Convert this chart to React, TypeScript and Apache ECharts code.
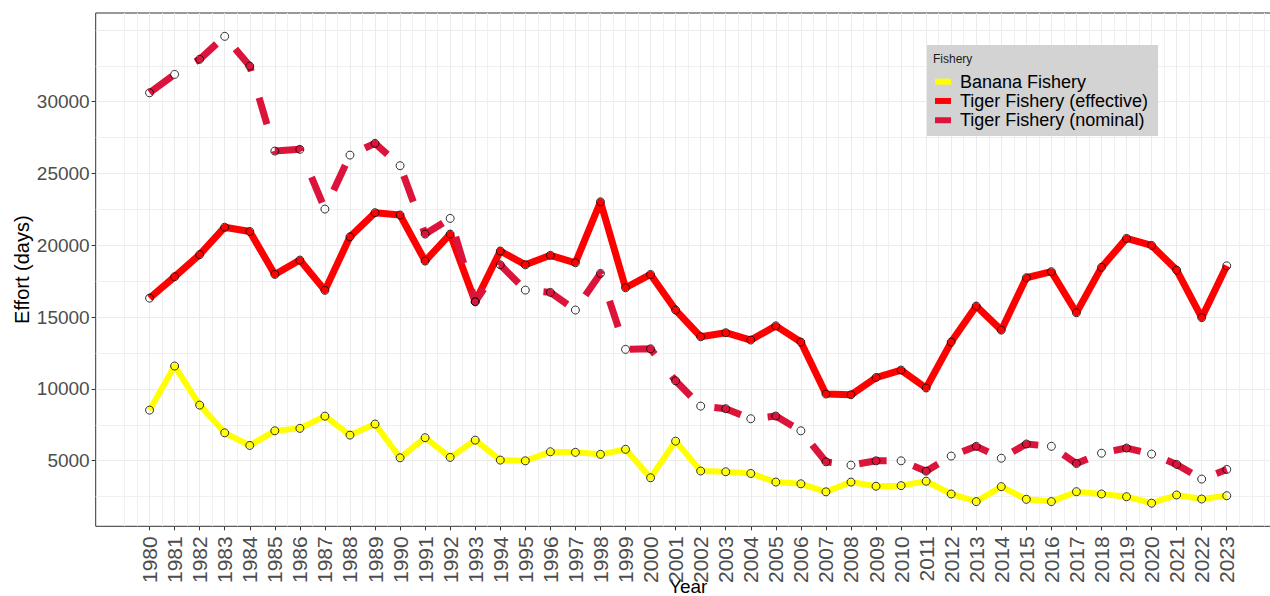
import React, { useEffect, useRef } from "react";
import * as echarts from "echarts";

const years = [
  1980, 1981, 1982, 1983, 1984, 1985, 1986, 1987, 1988, 1989, 1990, 1991, 1992, 1993, 1994,
  1995, 1996, 1997, 1998, 1999, 2000, 2001, 2002, 2003, 2004, 2005, 2006, 2007, 2008, 2009,
  2010, 2011, 2012, 2013, 2014, 2015, 2016, 2017, 2018, 2019, 2020, 2021, 2022, 2023,
];

const banana = [
  8520, 11590, 8870, 6940, 6060, 7080, 7250, 8100, 6780, 7550, 5200, 6600, 5230, 6430, 5040,
  4990, 5620, 5580, 5440, 5790, 3810, 6360, 4280, 4230, 4110, 3510, 3390, 2830, 3510, 3220,
  3260, 3570, 2680, 2150, 3190, 2310, 2150, 2840, 2680, 2490, 2040, 2610, 2330, 2560,
];

const tigerEffective = [
  16320, 17810, 19350, 21260, 20960, 17970, 18970, 16860, 20590, 22270, 22110, 18900, 20780,
  16070, 19600, 18640, 19300, 18780, 23030, 17040, 17970, 15490, 13630, 13910, 13400, 14390,
  13260, 9640, 9590, 10790, 11310, 10060, 13260, 15770, 14090, 17740, 18160, 15300, 18460,
  20480, 19990, 18270, 14960, 18570,
];

const tigerNominal = [
  30620, 31900, 32950, 34550, 32480, 26560, 26680, 22520, 26280, 27100, 25540, 20780, 21870,
  16070, 18640, 16880, 16720, 15490, 18040, 12750, 12790, 10560, 8800, 8620, 7920, 8110, 7080,
  4920, 4690, 4990, 4990, 4270, 5320, 6000, 5170, 6160, 6000, 4800, 5520, 5880, 5460, 4740,
  3720, 4390,
];

const seriesNames = ["Banana Fishery", "Tiger Fishery (effective)", "Tiger Fishery (nominal)"];
const seriesColors = ["#FFFF00", "#FF0000", "#DC143C"];

const yTickValues = [5000, 10000, 15000, 20000, 25000, 30000];
const yMajorGrid = [5000, 10000, 15000, 20000, 25000, 30000, 35000];
const yMinorGrid = [2500, 7500, 12500, 17500, 22500, 27500, 32500];
const xMinorGrid = [1979, 1979.5, ...years.map((y) => y + 0.5), 2024, 2024.5];

const X_MIN = 1977.85;
const X_MAX = 2025.15;
const Y_MIN = 430;
const Y_MAX = 36175;

const FONT = '"Liberation Sans", Arial, Helvetica, sans-serif';

const pairs = (vals: number[]) => years.map((yr, i) => [yr, vals[i]]);

export default function App() {
  const ref = useRef<HTMLDivElement>(null);

  useEffect(() => {
    if (!ref.current) return;
    const chart = echarts.init(ref.current, undefined, { renderer: "svg" });

    const lineSeries = [banana, tigerEffective, tigerNominal].map((vals, i) => ({
      name: seriesNames[i],
      type: "line",
      xAxisIndex: 0,
      yAxisIndex: 0,
      data: pairs(vals),
      showSymbol: false,
      symbol: "none",
      color: seriesColors[i],
      itemStyle: { color: seriesColors[i] },
      lineStyle: {
        color: seriesColors[i],
        width: i === 0 ? 6 : 7,
        cap: "butt",
        join: "round",
        type: i === 2 ? [27.7, 27.7] : "solid",
      },
      silent: true,
      z: 2 + i * 0.1,
    }));

    const pointSeries = [banana, tigerEffective, tigerNominal].map((vals, i) => ({
      name: seriesNames[i] + " points",
      type: "scatter",
      xAxisIndex: 0,
      yAxisIndex: 0,
      data: pairs(vals),
      symbol: "circle",
      symbolSize: 8,
      itemStyle: { color: "rgba(0,0,0,0)", borderColor: "#000", borderWidth: 1 },
      silent: true,
      z: 5,
    }));

    const option: any = {
      animation: false,
      backgroundColor: "#fff",
      textStyle: { fontFamily: FONT },
      grid: {
        left: 95.7,
        right: -10.6,
        top: 13,
        bottom: 69.7,
        show: true,
        borderColor: "#333",
        borderWidth: 1,
        backgroundColor: "#fff",
        containLabel: false,
        outerBoundsMode: "none",
      },
      xAxis: [
        {
          type: "value",
          min: X_MIN,
          max: X_MAX,
          position: "bottom",
          axisLine: { show: false },
          axisTick: {
            show: true,
            customValues: years,
            length: 4,
            lineStyle: { color: "#333", width: 1 },
          },
          axisLabel: {
            customValues: years,
            rotate: 90,
            fontSize: 21,
            color: "#4D4D4D",
            margin: 10,
            fontFamily: FONT,
            formatter: (v: number) => String(Math.round(v)),
          },
          splitLine: { show: true, lineStyle: { color: "#EBEBEB", width: 1 } },
          name: "Year",
          nameLocation: "middle",
          nameGap: 51,
          nameMoveOverlap: false,
          nameTextStyle: { fontSize: 19, color: "#000", fontFamily: FONT },
        },
        {
          type: "value",
          min: X_MIN,
          max: X_MAX,
          position: "bottom",
          axisLine: { show: false },
          axisTick: { show: false, customValues: xMinorGrid },
          axisLabel: { show: false, customValues: xMinorGrid },
          splitLine: { show: true, lineStyle: { color: "#F0F0F0", width: 1 } },
        },
      ],
      yAxis: [
        {
          type: "value",
          min: Y_MIN,
          max: Y_MAX,
          position: "left",
          axisLine: { show: false },
          axisTick: {
            show: true,
            customValues: yTickValues,
            length: 4,
            lineStyle: { color: "#333", width: 1 },
          },
          axisLabel: {
            customValues: yTickValues,
            fontSize: 19,
            color: "#4D4D4D",
            margin: 6,
            fontFamily: FONT,
            formatter: (v: number) => String(Math.round(v)),
          },
          splitLine: { show: false },
          name: "Effort (days)",
          nameLocation: "middle",
          nameGap: 64,
          nameMoveOverlap: false,
          nameTextStyle: { fontSize: 20, color: "#000", fontFamily: FONT },
        },
        {
          type: "value",
          min: Y_MIN,
          max: Y_MAX,
          position: "left",
          axisLine: { show: false },
          axisTick: { show: false, customValues: yMajorGrid },
          axisLabel: { show: false, customValues: yMajorGrid },
          splitLine: { show: true, lineStyle: { color: "#EBEBEB", width: 1 } },
        },
        {
          type: "value",
          min: Y_MIN,
          max: Y_MAX,
          position: "left",
          axisLine: { show: false },
          axisTick: { show: false, customValues: yMinorGrid },
          axisLabel: { show: false, customValues: yMinorGrid },
          splitLine: { show: true, lineStyle: { color: "#F0F0F0", width: 1 } },
        },
      ],
      legend: {
        data: seriesNames.map((n) => ({ name: n })),
        orient: "vertical",
        left: 927,
        top: 45,
        icon: "rect",
        itemWidth: 16,
        itemHeight: 6,
        itemGap: 0,
        padding: [27, 10, 6, 8],
        backgroundColor: "#D3D3D3",
        borderWidth: 0,
        selectedMode: false,
        itemStyle: { borderWidth: 0 },
        textStyle: {
          fontSize: 18,
          color: "#000",
          lineHeight: 19.3,
          fontFamily: FONT,
          padding: [0, 0, 0, 4],
        },
      },
      graphic: [
        {
          type: "text",
          left: 933,
          top: 53,
          z: 100,
          style: { text: "Fishery", fontSize: 12, fill: "#1a1a1a", fontFamily: FONT },
        },
      ],
      series: [...lineSeries, ...pointSeries],
    };

    chart.setOption(option);
    return () => chart.dispose();
  }, []);

  return (
    <div
      ref={ref}
      style={{ position: "fixed", left: 0, top: 0, width: 1270, height: 596, background: "#fff" }}
    />
  );
}
